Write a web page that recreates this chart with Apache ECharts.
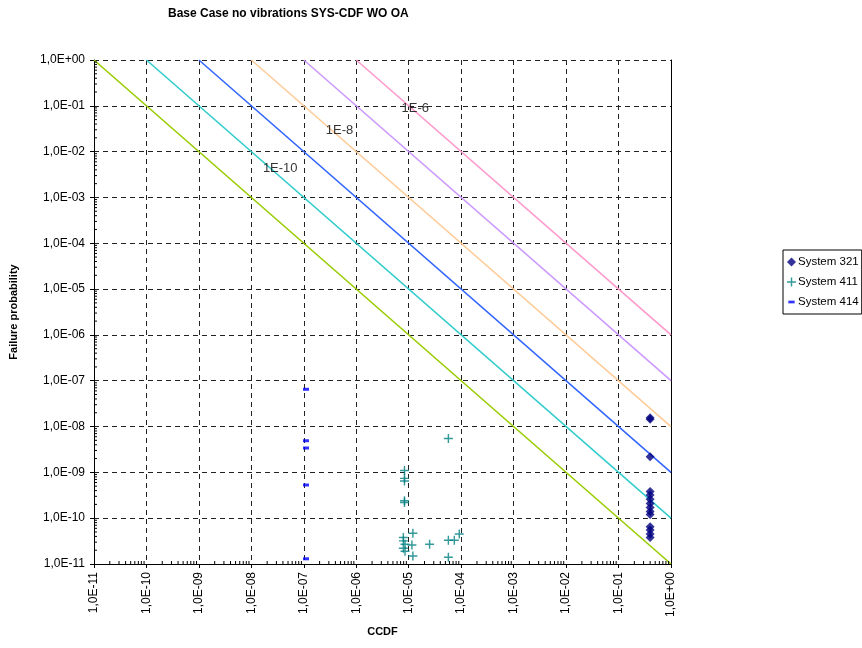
<!DOCTYPE html>
<html>
<head>
<meta charset="utf-8">
<script src="https://cdn.jsdelivr.net/npm/echarts@6/dist/echarts.min.js"></script>
<style>
html,body{margin:0;padding:0;background:#fff;}
#chart{width:862px;height:648px;}
</style>
</head>
<body>
<div id="chart"></div>
<script>
// ---- data ----
const titleText = 'Base Case no vibrations SYS-CDF WO OA';
const xName = 'CCDF';
const yName = 'Failure probability';

// iso-risk lines (product CCDF x probability)
const isoProducts = [1e-11, 1e-10, 1e-9, 1e-8, 1e-7, 1e-6];
const isoColors = ['#99CC00', '#33CCCC', '#3366FF', '#FFCC99', '#CC99FF', '#FF99CC'];

// line annotations [x, y, text]
const annotations = [
  [1.33e-5, 0.0896, '1E-6'],
  [4.8e-7, 0.0296, '1E-8'],
  [3.55e-8, 0.0044, '1E-10']
];

const sys321 = [
  [0.4, 1.55e-8], [0.4, 1.45e-8], [0.4, 2.2e-9],
  [0.4, 3.8e-10], [0.4, 3.2e-10], [0.4, 2.6e-10], [0.4, 2.1e-10],
  [0.4, 1.7e-10], [0.4, 1.4e-10], [0.4, 1.2e-10],
  [0.4, 6.5e-11], [0.4, 5.5e-11], [0.4, 4.5e-11], [0.4, 3.8e-11]
];

const sys411 = [
  [8.3e-6, 1.1e-9], [8.3e-6, 7.4e-10], [8.3e-6, 6.5e-10], [8.3e-6, 2.4e-10], [8.3e-6, 2.2e-10],
  [1.2e-5, 4.7e-11], [7.9e-6, 3.8e-11], [7.9e-6, 3.2e-11], [8.5e-6, 2.7e-11],
  [1.15e-5, 2.6e-11], [7.9e-6, 2.2e-11], [8.5e-6, 1.9e-11], [1.2e-5, 1.5e-11],
  [2.5e-5, 2.7e-11], [5.7e-5, 5.5e-9], [5.7e-5, 3.3e-11], [7.4e-5, 3.3e-11],
  [9.2e-5, 4.5e-11], [5.7e-5, 1.4e-11]
];

const sys414 = [
  [1.1e-7, 6.5e-8], [1.1e-7, 4.9e-9], [1.1e-7, 3.4e-9], [1.1e-7, 5.3e-10], [1.1e-7, 1.3e-11]
];

const xMin = 1e-11, xMax = 1;
const yMin = 1e-11, yMax = 1;

// ---- helpers ----
function sciLabel(v) {
  const e = Math.round(Math.log10(v));
  return '1,0E' + (e < 0 ? '-' : '+') + String(Math.abs(e)).padStart(2, '0');
}
const minorX = [], minorY = [];
for (let e = -11; e < 0; e++) {
  for (let m = 2; m <= 9; m++) {
    minorX.push([m * Math.pow(10, e), yMin]);
    minorY.push([xMin, m * Math.pow(10, e)]);
  }
}

const FONT = '"Liberation Sans", Arial, sans-serif';
const plusPath = 'path://M4.2,0H5.8V4.2H10V5.8H5.8V10H4.2V5.8H0V4.2H4.2Z';
const dashLegend = 'path://M0,0M1.5,3.5H8.5V6.5H1.5ZM10,10';

const series = [];
isoProducts.forEach((p, i) => {
  series.push({
    name: 'iso' + i,
    type: 'line',
    data: [[p, 1], [1, p]],
    showSymbol: false,
    silent: true,
    lineStyle: { color: isoColors[i], width: 1.6 },
    z: 2
  });
});
series.push({
  name: 'annot', type: 'scatter', symbolSize: 0, silent: true,
  data: annotations.map(a => ({ value: [a[0], a[1]], name: a[2] })),
  label: { show: true, position: 'inside', formatter: p => p.name, color: '#000',
           fontFamily: FONT, fontSize: 13 },
  z: 5
});
series.push({
  name: 'System 321', type: 'scatter', data: sys321, symbol: 'diamond', symbolSize: 9,
  itemStyle: { color: '#000080' }, z: 4
});
series.push({
  name: 'System 411', type: 'scatter', data: sys411, symbol: plusPath, symbolSize: 9,
  itemStyle: { color: '#008080' }, z: 4
});
series.push({
  name: 'System 414', type: 'scatter', data: sys414, symbol: 'rect', symbolSize: [6, 3],
  itemStyle: { color: '#0000FF' }, z: 4
});
series.push({
  name: 'minorX', type: 'custom', silent: true, clip: false, data: minorX,
  renderItem: (params, api) => {
    const pt = api.coord([api.value(0), api.value(1)]);
    return { type: 'line', shape: { x1: pt[0], y1: pt[1], x2: pt[0], y2: pt[1] - 3 },
             style: { stroke: '#000', lineWidth: 1 } };
  }, z: 6
});
series.push({
  name: 'minorY', type: 'custom', silent: true, clip: false, data: minorY,
  renderItem: (params, api) => {
    const pt = api.coord([api.value(0), api.value(1)]);
    return { type: 'line', shape: { x1: pt[0], y1: pt[1], x2: pt[0] + 3, y2: pt[1] },
             style: { stroke: '#000', lineWidth: 1 } };
  }, z: 6
});

const chart = echarts.init(document.getElementById('chart'), null, { renderer: 'canvas' });
chart.setOption({
  animation: false,
  backgroundColor: '#fff',
  title: {
    text: titleText, left: 168, top: 8, padding: 0,
    textStyle: { fontFamily: FONT, fontSize: 12, fontWeight: 'bold', color: '#000' }
  },
  legend: {
    orient: 'vertical', left: 783, top: 250,
    data: [
      { name: 'System 321', icon: 'diamond' },
      { name: 'System 411', icon: plusPath },
      { name: 'System 414', icon: dashLegend }
    ],
    itemWidth: 9, itemHeight: 9, itemGap: 8,
    padding: [6, 3, 6, 4],
    borderColor: '#000', borderWidth: 1, borderRadius: 0,
    textStyle: { fontFamily: FONT, fontSize: 11.5, color: '#000', padding: [0, 0, 0, -3] }
  },
  grid: { left: 93, right: 191, top: 60, bottom: 84, containLabel: false },
  xAxis: {
    type: 'log', logBase: 10, min: xMin, max: xMax, interval: 1, splitNumber: 11,
    name: xName, nameLocation: 'middle', nameGap: 62,
    nameTextStyle: { fontFamily: FONT, fontSize: 11, fontWeight: 'bold', color: '#000' },
    axisLine: { show: true, onZero: false, lineStyle: { color: '#000', width: 1 } },
    axisTick: { show: true, length: 4, lineStyle: { color: '#000' } },
    minorTick: { show: false },
    axisLabel: { formatter: sciLabel, rotate: 90, margin: 8, fontFamily: FONT, fontSize: 12, color: '#000' },
    splitLine: { show: true, lineStyle: { color: '#222', type: [5, 4], width: 1 } }
  },
  yAxis: [{
    type: 'log', logBase: 10, min: yMin, max: yMax, interval: 1, splitNumber: 11,
    name: yName, nameLocation: 'middle', nameGap: 75, nameRotate: 90,
    nameTextStyle: { fontFamily: FONT, fontSize: 11, fontWeight: 'bold', color: '#000' },
    axisLine: { show: true, onZero: false, lineStyle: { color: '#000', width: 1 } },
    axisTick: { show: true, length: 4, lineStyle: { color: '#000' } },
    minorTick: { show: false },
    axisLabel: { formatter: sciLabel, margin: 9, fontFamily: FONT, fontSize: 12, color: '#000' },
    splitLine: { show: true, lineStyle: { color: '#222', type: [5, 4], width: 1 } }
  }, {
    type: 'log', logBase: 10, min: yMin, max: yMax, position: 'right',
    axisLine: { show: true, onZero: false, lineStyle: { color: '#000', width: 1 } },
    axisTick: { show: false }, axisLabel: { show: false }, splitLine: { show: false }
  }],
  series: series
});
</script>
</body>
</html>
